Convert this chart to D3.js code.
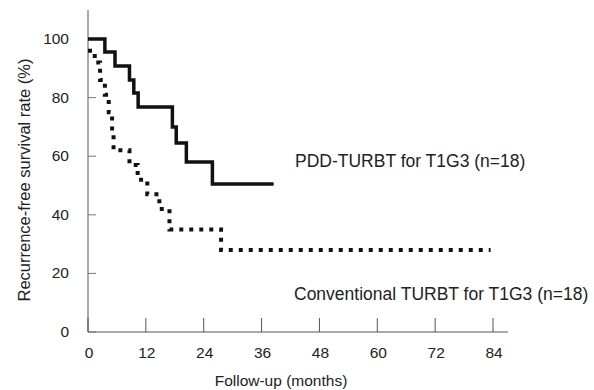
<!DOCTYPE html>
<html>
<head>
<meta charset="utf-8">
<script src="https://cdn.jsdelivr.net/npm/d3@7"></script>
<style>
body { margin: 0; background: #fff; }
text { font-family: "Liberation Sans", Arial, sans-serif; fill: #222; }
</style>
</head>
<body>
<svg id="chart" width="594" height="390"></svg>
<script>
// step curves (month, rate after the drop)
var pddMonths = [0, 3.5, 5.6, 8.6, 9.5, 10.4, 17.5, 18.3, 20.4, 25.8, 38.5]
var pddRate   = [100, 95.6, 90.8, 86, 81.6, 76.8, 70, 64.5, 58, 50.5, 50.5]

var convMonths = [0, 1.4, 2.5, 3.5, 4.3, 5.0, 5.3, 8.6, 10.3, 12.3, 14.8, 16.9, 27.6, 83.5]
var convRate   = [96, 92, 86, 81, 75, 68, 62, 57, 52, 47, 42, 35, 28, 28]

var xTicks = [0, 12, 24, 36, 48, 60, 72, 84]
var yTicks = [0, 20, 40, 60, 80, 100]

var svg = d3.select("#chart")

var x = d3.scaleLinear().domain([0, 84]).range([88, 493])
var y = d3.scaleLinear().domain([0, 100]).range([332, 39])

// axes lines
svg.append("line").attr("x1", 88).attr("x2", 508).attr("y1", 332).attr("y2", 332)
  .attr("stroke", "#555").attr("stroke-width", 1)
svg.append("line").attr("x1", 88).attr("x2", 88).attr("y1", 10).attr("y2", 332)
  .attr("stroke", "#555").attr("stroke-width", 1)

// x ticks (inside)
svg.selectAll(".xt").data(xTicks).enter().append("line")
  .attr("x1", d => x(d)).attr("x2", d => x(d))
  .attr("y1", 332).attr("y2", 318)
  .attr("stroke", "#555").attr("stroke-width", 1)
svg.selectAll(".xl").data(xTicks).enter().append("text")
  .attr("x", d => x(d) + 1).attr("y", 358)
  .attr("text-anchor", "middle").attr("font-size", 15.5)
  .text(d => d)

// y ticks
svg.selectAll(".yt").data(yTicks).enter().append("line")
  .attr("x1", 88).attr("x2", 96)
  .attr("y1", d => y(d)).attr("y2", d => y(d))
  .attr("stroke", "#777").attr("stroke-width", 1)
svg.selectAll(".yl").data(yTicks).enter().append("text")
  .attr("x", 69).attr("y", d => y(d) + 5)
  .attr("text-anchor", "end").attr("font-size", 15.5)
  .text(d => d)

var line = d3.line()
  .x(d => x(d[0])).y(d => y(d[1]))
  .curve(d3.curveStepAfter)

var pdd = pddMonths.map((m, i) => [m, pddRate[i]])
var conv = convMonths.map((m, i) => [m, convRate[i]])

svg.append("path").datum(conv).attr("d", line)
  .attr("fill", "none").attr("stroke", "#111")
  .attr("stroke-width", 4).attr("stroke-dasharray", "4,6")

svg.append("path").datum(pdd).attr("d", line)
  .attr("fill", "none").attr("stroke", "#111")
  .attr("stroke-width", 3.5)

// labels
svg.append("text").attr("x", 295).attr("y", 167).attr("font-size", 17.5)
  .text("PDD-TURBT for T1G3 (n=18)")
svg.append("text").attr("x", 294).attr("y", 300).attr("font-size", 17.5)
  .text("Conventional TURBT for T1G3 (n=18)")

svg.append("text").attr("x", 281).attr("y", 386).attr("text-anchor", "middle")
  .attr("font-size", 15.5).text("Follow-up (months)")

svg.append("text").attr("transform", "translate(30,180) rotate(-90)")
  .attr("text-anchor", "middle").attr("font-size", 16.5)
  .text("Recurrence-free survival rate (%)")
</script>
</body>
</html>
